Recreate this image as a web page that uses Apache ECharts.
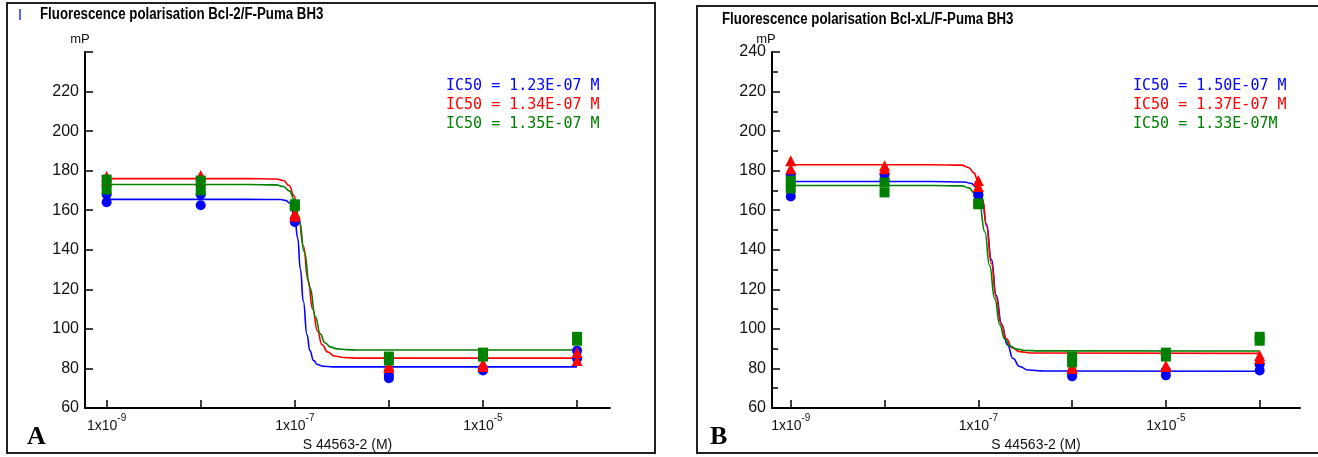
<!DOCTYPE html>
<html><head><meta charset="utf-8">
<script src="https://cdn.jsdelivr.net/npm/echarts@6/dist/echarts.min.js"></script>
<style>html,body{margin:0;padding:0;background:#fff}#c{width:1318px;height:457px}</style>
</head><body><div id="c"></div>
<script>
// concentrations as log10(M)
const logConc = [-9, -8, -7, -6, -5, -4];
const xTicks = [-9, -8, -7, -6, -5, -4];
const xLabels = [-9, -7, -5];
const yTitle = 'mP';
const xTitle = 'S 44563-2 (M)';

// Panel A: Bcl-2 (two replicates per concentration)
const aBlue1 = [164, 162.5, 154, 75, 79, 85];
const aBlue2 = [168, 168, 155, 76.5, 80, 89];
const aRed1 = [177, 177.5, 157, 80.5, 81, 84];
const aRed2 = [175, 175, 158.5, 81.5, 82.5, 88];
const aGreen1 = [175.5, 175, 162, 86, 88, 96];
const aGreen2 = [170.5, 170, 163, 84, 86, 94];
// Panel A fitted curves
const aBlueCurveX = [-9, -7.5, -7.15, -7.1, -7.05, -7.0, -6.97, -6.94, -6.91, -6.87, -6.84, -6.8, -6.76, -6.7, -6.6, -4];
const aBlueCurveY = [165.5, 165.5, 165.4, 165, 163.5, 156, 146, 130, 114, 97, 89, 84, 82, 81.1, 80.8, 80.8];
const aRedCurveX = [-9, -7.5, -7.2, -7.12, -7.06, -7.01, -6.96, -6.91, -6.86, -6.81, -6.76, -6.71, -6.65, -6.58, -6.48, -6.3, -4];
const aRedCurveY = [176, 176, 175.8, 175, 172.5, 167.5, 157, 142, 125, 110, 99, 92, 88.3, 86.3, 85.5, 85.2, 85.2];
const aGreenCurveX = [-9, -7.5, -7.2, -7.12, -7.06, -7.0, -6.95, -6.9, -6.84, -6.78, -6.73, -6.68, -6.62, -6.55, -6.45, -6.3, -4];
const aGreenCurveY = [173, 173, 172.8, 172, 169.8, 165, 154, 139, 121, 106, 97.5, 93, 90.8, 89.9, 89.5, 89.3, 89.3];
const aIC50 = ['IC50 = 1.23E-07 M', 'IC50 = 1.34E-07 M', 'IC50 = 1.35E-07 M'];

// Panel B: Bcl-xL
const bBlue1 = [178, 178, 167.5, 78, 79, 82];
const bBlue2 = [167, 175, 168, 76, 76.5, 79];
const bRed1 = [185, 182.5, 175, 80, 81, 86.5];
const bRed2 = [181, 181, 172, 81, 81.5, 85];
const bGreen1 = [175, 174, 163, 86, 88, 96];
const bGreen2 = [171, 169, 163.5, 83, 86, 94];
const bBlueCurveX = [-9, -7.5, -7.15, -7.08, -7.02, -6.96, -6.914, -6.86, -6.81, -6.75, -6.69, -6.63, -6.56, -6.47, -6.3, -4];
const bBlueCurveY = [174.5, 174.5, 174.3, 173.6, 171.5, 166, 153, 135, 117, 102, 92, 85, 81, 79.2, 78.7, 78.6];
const bRedCurveX = [-9, -7.5, -7.18, -7.1, -7.05, -7.0, -6.95, -6.914, -6.86, -6.81, -6.76, -6.7, -6.64, -6.56, -6.45, -4];
const bRedCurveY = [183, 183, 182.8, 181.5, 179, 174.5, 164.5, 152, 133, 116, 103, 95, 90.5, 88.5, 87.8, 87.6];
const bGreenCurveX = [-9, -7.5, -7.18, -7.1, -7.04, -6.99, -6.93, -6.88, -6.825, -6.77, -6.72, -6.66, -6.59, -6.5, -6.35, -4];
const bGreenCurveY = [172.5, 172.5, 172.3, 171.3, 168.5, 163.5, 149, 132, 115.3, 102, 95, 91.3, 89.8, 89.1, 88.9, 88.8];
const bIC50 = ['IC50 = 1.50E-07 M', 'IC50 = 1.37E-07 M', 'IC50 = 1.33E-07M'];

const BLUE = '#0000ff', RED = '#ff0000', GREEN = '#008000';

function pairs(xs, ys) { return xs.map((x, i) => [x, ys[i]]); }
function reps(a, b) { return pairs(logConc, a).concat(pairs(logConc, b)); }

function xAxisFor(grid, min, max) {
  return {
    type: 'value', gridIndex: grid, min: min, max: max,
    axisLine: { show: true, onZero: false, lineStyle: { color: '#000', width: 2 } },
    axisTick: { show: true, inside: true, length: 8, customValues: xTicks, lineStyle: { color: '#000', width: 1.5 } },
    axisLabel: {
      customValues: xLabels, margin: 5, color: '#111',
      formatter: v => '{b|1x10}{s|' + v + '}',
      rich: {
        b: { fontFamily: 'Liberation Sans', fontSize: 14, lineHeight: 20, verticalAlign: 'bottom', color: '#111' },
        s: { fontFamily: 'Liberation Sans', fontSize: 10, verticalAlign: 'top', color: '#111' }
      }
    },
    splitLine: { show: false },
    name: xTitle, nameLocation: 'middle', nameGap: 30,
    nameTextStyle: { fontFamily: 'Liberation Sans', fontSize: 14, color: '#111' }
  };
}
function yAxisFor(grid, minor, hideTop) {
  return {
    type: 'value', gridIndex: grid, min: 60, max: 240, interval: 20,
    axisLine: { show: true, lineStyle: { color: '#000', width: 2 } },
    axisTick: { show: true, inside: true, length: 8, lineStyle: { color: '#000', width: 1.5 } },
    minorTick: { show: minor, splitNumber: 2, length: 6, lineStyle: { color: '#000', width: 1.5 } },
    axisLabel: {
      margin: 6, color: '#111', fontFamily: 'Liberation Sans', fontSize: 16,
      formatter: v => (hideTop && v === 240) ? '' : String(v)
    },
    splitLine: { show: false }
  };
}
function curve(xi, yi, xs, ys, color) {
  return { type: 'line', xAxisIndex: xi, yAxisIndex: yi, data: pairs(xs, ys), showSymbol: false,
    smooth: 0.5, smoothMonotone: 'x', lineStyle: { color: color, width: 1.6 }, silent: true, z: 2 };
}
function pts(xi, yi, data, color, symbol, size) {
  return { type: 'scatter', xAxisIndex: xi, yAxisIndex: yi, data: data, symbol: symbol, symbolSize: size,
    itemStyle: { color: color, opacity: 1 }, z: 3 };
}
function txt(x, y, s, style, sx) {
  return { type: 'text', x: x, y: y, scaleX: sx || 1, style: Object.assign({ text: s, fill: '#000' }, style), z: 10 };
}
const monoStyle = c => ({ fill: c, font: '15px "DejaVu Sans Mono"', textVerticalAlign: 'middle' });
const titleStyle = { font: 'bold 16px "Liberation Sans"', textVerticalAlign: 'middle' };

const chart = echarts.init(document.getElementById('c'));
chart.setOption({
  animation: false,
  backgroundColor: '#fff',
  grid: [
    { left: 85, top: 52, width: 525, height: 361, containLabel: false },
    { left: 772, top: 52, width: 528, height: 361, containLabel: false }
  ],
  xAxis: [xAxisFor(0, -9.23, -3.65), xAxisFor(1, -9.2, -3.57)],
  yAxis: [yAxisFor(0, false, true), yAxisFor(1, true, false)],
  series: [
    curve(0, 0, aBlueCurveX, aBlueCurveY, BLUE),
    curve(0, 0, aRedCurveX, aRedCurveY, RED),
    curve(0, 0, aGreenCurveX, aGreenCurveY, GREEN),
    pts(0, 0, reps(aBlue1, aBlue2), BLUE, 'circle', 10),
    pts(0, 0, reps(aRed1, aRed2), RED, 'triangle', 11),
    pts(0, 0, reps(aGreen1, aGreen2), GREEN, 'rect', 10),
    curve(1, 1, bBlueCurveX, bBlueCurveY, BLUE),
    curve(1, 1, bRedCurveX, bRedCurveY, RED),
    curve(1, 1, bGreenCurveX, bGreenCurveY, GREEN),
    pts(1, 1, reps(bBlue1, bBlue2), BLUE, 'circle', 10),
    pts(1, 1, reps(bRed1, bRed2), RED, 'triangle', 11),
    pts(1, 1, reps(bGreen1, bGreen2), GREEN, 'rect', 10)
  ],
  graphic: [
    { type: 'rect', shape: { x: 7, y: 3, width: 648, height: 450 }, style: { fill: 'none', stroke: '#222', lineWidth: 2 }, z: 1 },
    { type: 'rect', shape: { x: 697, y: 6, width: 640, height: 447 }, style: { fill: 'none', stroke: '#222', lineWidth: 2 }, z: 1 },
    { type: 'line', shape: { x1: 20, y1: 9, x2: 20, y2: 20 }, style: { stroke: '#2233dd', lineWidth: 1.5 } },
    txt(40, 15, 'Fluorescence polarisation Bcl-2/F-Puma BH3', titleStyle, 0.83),
    txt(722, 20, 'Fluorescence polarisation Bcl-xL/F-Puma BH3', titleStyle, 0.83),
    txt(80, 39, yTitle, { font: '13px "Liberation Sans"', textAlign: 'center', textVerticalAlign: 'middle', fill: '#111' }),
    txt(766, 39, yTitle, { font: '13px "Liberation Sans"', textAlign: 'center', textVerticalAlign: 'middle', fill: '#111' }),
    txt(27, 437, 'A', { font: 'bold 26px "Liberation Serif"', textVerticalAlign: 'middle' }),
    txt(710, 437, 'B', { font: 'bold 26px "Liberation Serif"', textVerticalAlign: 'middle' }),
    txt(446, 86, aIC50[0], monoStyle(BLUE)),
    txt(446, 105, aIC50[1], monoStyle(RED)),
    txt(446, 124, aIC50[2], monoStyle(GREEN)),
    txt(1133, 86, bIC50[0], monoStyle(BLUE)),
    txt(1133, 105, bIC50[1], monoStyle(RED)),
    txt(1133, 124, bIC50[2], monoStyle(GREEN))
  ]
});
</script></body></html>
